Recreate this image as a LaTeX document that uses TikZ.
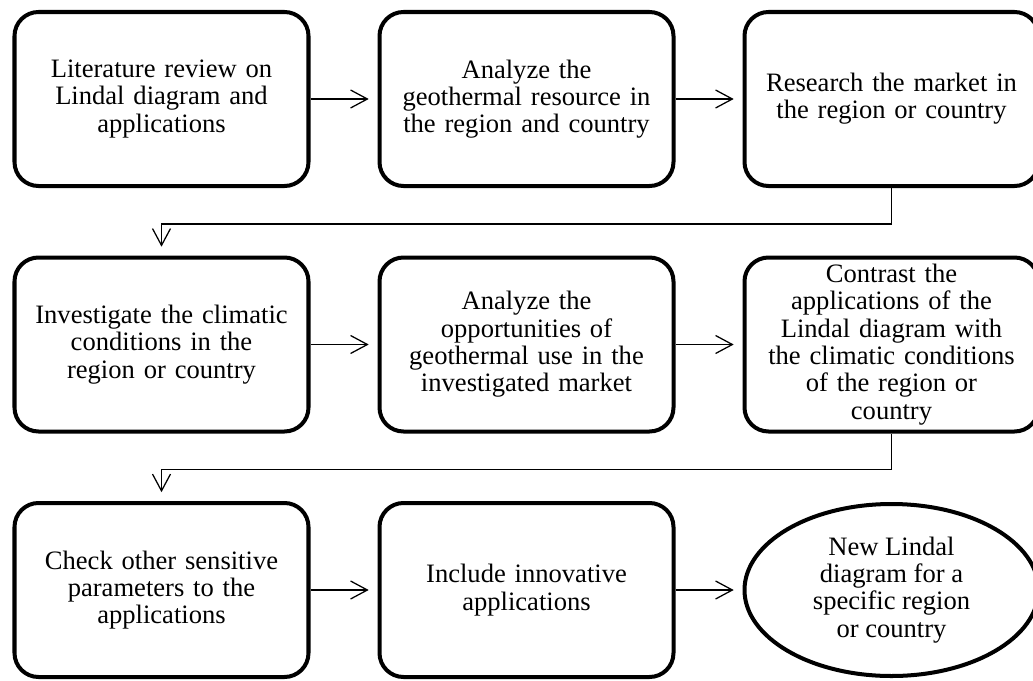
\documentclass[tikz,border=0pt]{standalone}
\usepackage{fontspec}
\setmainfont{Liberation Serif}
\usetikzlibrary{shapes.geometric,arrows.meta}

\begin{document}
\begin{tikzpicture}[
  box/.style={draw, line width=2.85pt, rounded corners=0.6cm,
    minimum width=7.35cm, minimum height=4.35cm, text width=7.2cm,
    align=center, inner sep=2pt, font=\fontsize{18.9}{19.4}\selectfont},
  goal/.style={draw, ellipse, line width=2.85pt, minimum width=7.35cm,
    minimum height=4.3cm, align=center, inner sep=0pt,
    font=\fontsize{18.9}{19.4}\selectfont},
  arr/.style={-{Straight Barb[length=0.42cm, width=0.45cm]},
    line width=0.9pt, shorten >=0.22cm}
]
\clip (0,0) rectangle (25.825,-17.025);
\node[box] (s1) at (4.0375,-2.475) {
  Literature review on\\Lindal diagram and\\applications};
\node[box] (s2) at (13.1625,-2.475) {
  Analyze the\\geothermal resource in\\the region and country};
\node[box] (s3) at (22.2875,-2.475) {
  Research the market in\\the region or country};
\node[box] (s4) at (4.0375,-8.6125) {
  Investigate the climatic\\conditions in the\\region or country};
\node[box] (s5) at (13.1625,-8.6125) {
  Analyze the\\opportunities of\\geothermal use in the\\investigated market};
\node[box] (s6) at (22.2875,-8.6125) {
  Contrast the\\applications of the\\Lindal diagram with\\the climatic conditions\\of the region or\\country};
\node[box] (s7) at (4.0375,-14.75) {
  Check other sensitive\\parameters to the\\applications};
\node[box] (s8) at (13.1625,-14.75) {
  Include innovative\\applications};
\node[goal] (s9) at (22.2875,-14.75) {
  New Lindal\\diagram for a\\specific region\\or country};
\draw[arr] (s1.east) -- (s2.west);
\draw[arr] (s2.east) -- (s3.west);
\draw[arr] (s3.south) -- ++(0,-0.9) -| (s4.north);
\draw[arr] (s4.east) -- (s5.west);
\draw[arr] (s5.east) -- (s6.west);
\draw[arr] (s6.south) -- ++(0,-0.9) -| (s7.north);
\draw[arr] (s7.east) -- (s8.west);
\draw[arr] (s8.east) -- (s9.west);
\end{tikzpicture}
\end{document}
